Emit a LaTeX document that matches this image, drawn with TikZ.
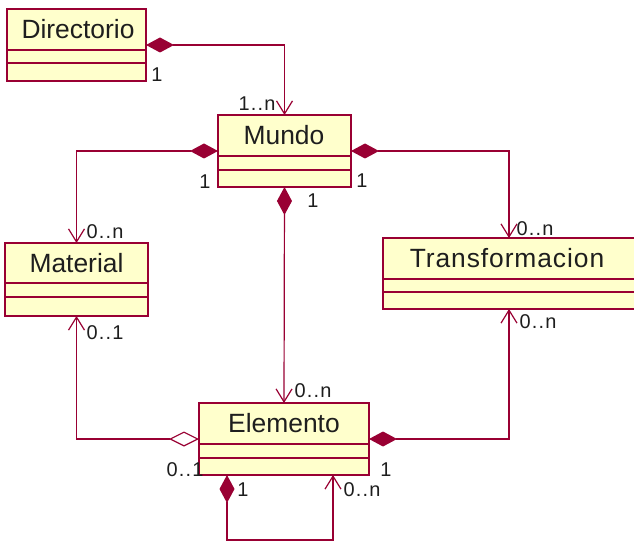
\documentclass[tikz,border=0pt]{standalone}
\usepackage{fontspec}
\setmainfont{Liberation Sans}
\usetikzlibrary{arrows.meta}
\definecolor{umlline}{RGB}{153,0,51}
\definecolor{umlfill}{RGB}{255,255,204}
\definecolor{umltext}{RGB}{30,30,30}
\tikzset{
  classbox/.style={draw=umlline, fill=umlfill, line width=1.2bp, inner sep=0pt, outer sep=0pt},
  classname/.style={font=\fontsize{26.5}{30}\selectfont, text=umltext, inner sep=0pt},
  divider/.style={draw=umlline, line width=1.2bp},
  mult/.style={font=\fontsize{20}{24}\selectfont\addfontfeature{LetterSpace=6}, text=umltext, inner sep=0pt},
  conn/.style={draw=umlline, line width=1.2bp},
  comptip/.tip={Diamond[length=28bp,width=15bp,fill=umlline]},
  aggtip/.tip={Diamond[open,length=30bp,width=15bp,fill=white]},
  navtip/.tip={Straight Barb[length=13bp,width=16bp]},
  comp/.style={conn, comptip-navtip},
  agg/.style={conn, aggtip-navtip},
}
\begin{document}
\begin{tikzpicture}[x=1bp,y=-1bp]
\useasboundingbox (0,0) rectangle (634,542);
\clip (0,0) rectangle (634,542);
\fill[white] (0,0) rectangle (634,542);

% classes
\node[classbox, minimum width=139bp, minimum height=72bp] (dir) at (76.5,45) {};
\draw[divider] (dir.west |- 0,50) -- (dir.east |- 0,50);
\draw[divider] (dir.west |- 0,63) -- (dir.east |- 0,63);
\node[classname] (dirname) at (78,29.5) {Directorio};

\node[classbox, minimum width=133bp, minimum height=72bp] (mundo) at (284.5,151) {};
\draw[divider] (mundo.west |- 0,156) -- (mundo.east |- 0,156);
\draw[divider] (mundo.west |- 0,170) -- (mundo.east |- 0,170);
\node[classname] (mundoname) at (284,135.5) {Mundo};

\node[classbox, minimum width=143bp, minimum height=73bp] (mat) at (76.5,279.5) {};
\draw[divider] (mat.west |- 0,283) -- (mat.east |- 0,283);
\draw[divider] (mat.west |- 0,297) -- (mat.east |- 0,297);
\node[classname] (matname) at (76.5,263) {Material};

\node[classbox, minimum width=252bp, minimum height=71bp] (trans) at (509,273.5) {};
\draw[divider] (trans.west |- 0,279) -- (trans.east |- 0,279);
\draw[divider] (trans.west |- 0,292) -- (trans.east |- 0,292);
\node[classname, font=\fontsize{26.5}{30}\selectfont\addfontfeature{LetterSpace=3.5}] (transname) at (507,258.5) {Transformacion};

\node[classbox, minimum width=170bp, minimum height=72bp] (elem) at (284,439) {};
\draw[divider] (elem.west |- 0,444) -- (elem.east |- 0,444);
\draw[divider] (elem.west |- 0,458) -- (elem.east |- 0,458);
\node[classname] (elemname) at (284,423.5) {Elemento};

% connectors
\draw[comp] (dir.east) -| (mundo.north);
\draw[comp] (mundo.west) -| (mat.north);
\draw[comp] (mundo.east) -| (trans.north);
\draw[comp] (mundo.south) -- (elem.north);
\draw[agg] (elem.west) -| (mat.south);
\draw[comp] (elem.east) -| (trans.south);
\coordinate (loopa) at ([xshift=-57bp]elem.south);
\coordinate (loopb) at ([xshift=49bp]elem.south);
\draw[comp] (loopa) -- ++(0,65) -| (loopb);

% multiplicities
\node[mult] (m1) at (157,75) {1};
\node[mult] (m2) at (257,104) {1..n};
\node[mult] (m3) at (205,182) {1};
\node[mult] (m4) at (313,201) {1};
\node[mult] (m5) at (362,181) {1};
\node[mult] (m6) at (105,232) {0..n};
\node[mult] (m7) at (535,229) {0..n};
\node[mult] (m8) at (105,333) {0..1};
\node[mult] (m9) at (313,391) {0..n};
\node[mult] (m10) at (185,470) {0..1};
\node[mult] (m11) at (386,470) {1};
\node[mult] (m12) at (243,490) {1};
\node[mult] (m13) at (362,490) {0..n};
\node[mult] (m14) at (538,322) {0..n};
\end{tikzpicture}
\end{document}
